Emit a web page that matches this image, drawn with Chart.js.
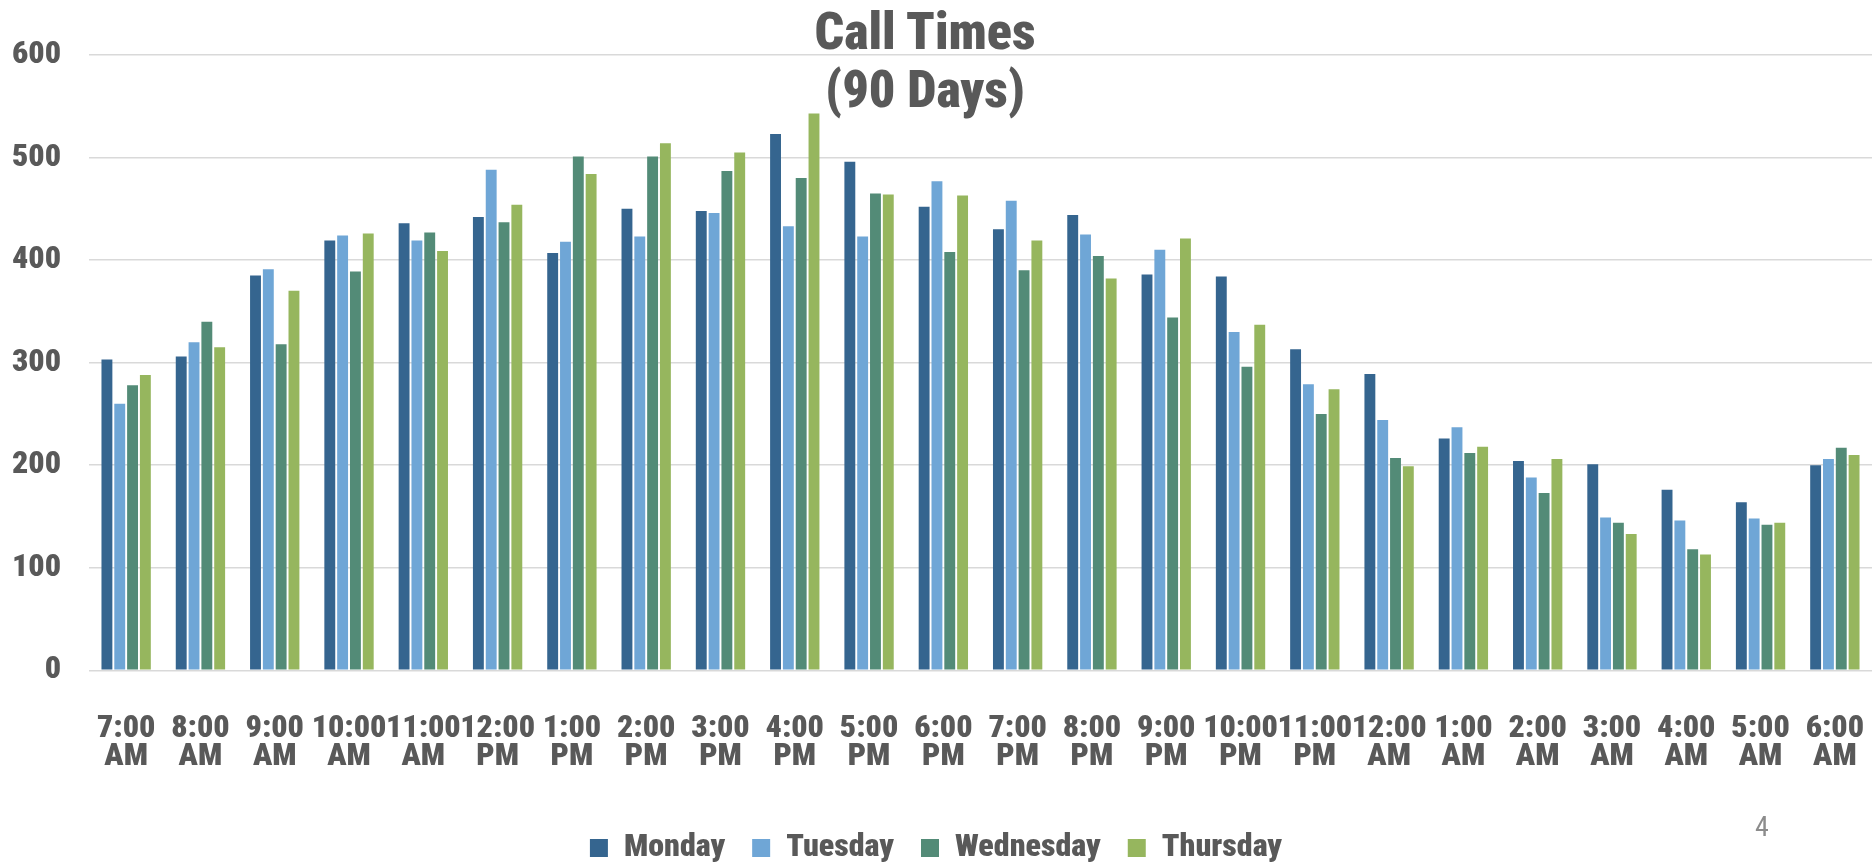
<!DOCTYPE html>
<html>
<head>
<meta charset="utf-8">
<title>Call Times</title>
<script src="https://cdn.jsdelivr.net/npm/chart.js@4"></script>
<style>
  html, body { margin: 0; padding: 0; background: #ffffff; }
  #wrap { position: relative; width: 1872px; height: 862px; }
  #callChart { position: absolute; left: 0; top: 0; }
  #chartTitle {
    position: absolute; left: 0; top: 3px; width: 1850px;
    text-align: center; color: #595959;
    font: 900 52px/58px "Roboto Condensed", sans-serif;
    pointer-events: none;
  }
  #pageNum {
    position: absolute; left: 1755px; top: 810px;
    color: #8c8c8c; font: 28px "Roboto Condensed", sans-serif;
  }
</style>
</head>
<body>
<div id="wrap">
  <canvas id="callChart" width="1872" height="862"></canvas>
  <div id="chartTitle">Call Times<br>(90 Days)</div>
  <div id="pageNum">4</div>
</div>
<script>
const hours = [
  ["7:00", "AM"], ["8:00", "AM"], ["9:00", "AM"], ["10:00", "AM"], ["11:00", "AM"],
  ["12:00", "PM"], ["1:00", "PM"], ["2:00", "PM"], ["3:00", "PM"], ["4:00", "PM"],
  ["5:00", "PM"], ["6:00", "PM"], ["7:00", "PM"], ["8:00", "PM"], ["9:00", "PM"],
  ["10:00", "PM"], ["11:00", "PM"], ["12:00", "AM"], ["1:00", "AM"], ["2:00", "AM"],
  ["3:00", "AM"], ["4:00", "AM"], ["5:00", "AM"], ["6:00", "AM"]
];

const monday    = [303, 306, 385, 419, 436, 442, 407, 450, 448, 523, 496, 452, 430, 444, 386, 384, 313, 289, 226, 204, 201, 176, 164, 200];
const tuesday   = [260, 320, 391, 424, 419, 488, 418, 423, 446, 433, 423, 477, 458, 425, 410, 330, 279, 244, 237, 188, 149, 146, 148, 206];
const wednesday = [278, 340, 318, 389, 427, 437, 501, 501, 487, 480, 465, 408, 390, 404, 344, 296, 250, 207, 212, 173, 144, 118, 142, 217];
const thursday  = [288, 315, 370, 426, 409, 454, 484, 514, 505, 543, 464, 463, 419, 382, 421, 337, 274, 199, 218, 206, 133, 113, 144, 210];

const yTicks = [0, 100, 200, 300, 400, 500, 600];

const textColor = "#595959";

Chart.defaults.font.family = "\"Roboto Condensed\", sans-serif";
Chart.defaults.color = textColor;

function series(label, data, color) {
  return {
    label: label,
    data: data,
    backgroundColor: color,
    borderWidth: 0,
    categoryPercentage: 0.69,
    barPercentage: 0.85
  };
}

new Chart(document.getElementById("callChart"), {
  type: "bar",
  data: {
    labels: hours,
    datasets: [
      series("Monday", monday, "#35658f"),
      series("Tuesday", tuesday, "#6fa6d6"),
      series("Wednesday", wednesday, "#538b77"),
      series("Thursday", thursday, "#96b65e")
    ]
  },
  options: {
    responsive: false,
    animation: false,
    layout: {
      padding: { left: 0, right: 0, top: 55, bottom: -12 }
    },
    plugins: {
      title: { display: false },
      tooltip: { enabled: false },
      legend: {
        position: "bottom",
        labels: {
          color: textColor,
          boxWidth: 18,
          boxHeight: 18,
          padding: 27,
          font: { size: 32, weight: "900" }
        }
      }
    },
    scales: {
      x: {
        grid: { display: false },
        border: { display: false },
        afterFit(axis) {
          // the labels fit inside their slots, no side padding wanted
          axis.paddingLeft = 0;
          axis.paddingRight = 0;
          axis.height -= 3;
        },
        ticks: {
          color: textColor,
          autoSkip: false,
          maxRotation: 0,
          minRotation: 0,
          padding: 37,
          font: { size: 32, weight: "900", lineHeight: 0.87 }
        }
      },
      y: {
        min: 0,
        max: 600,
        afterBuildTicks(axis) {
          axis.ticks = yTicks.map((v) => ({ value: v }));
        },
        afterFit(axis) {
          axis.width = 89;
        },
        grid: {
          color: "#d9d9d9",
          lineWidth: 1.5,
          drawTicks: false
        },
        border: { display: false },
        ticks: {
          color: textColor,
          padding: 28,
          font: { size: 32, weight: "900" }
        }
      }
    }
  }
});
</script>
</body>
</html>
